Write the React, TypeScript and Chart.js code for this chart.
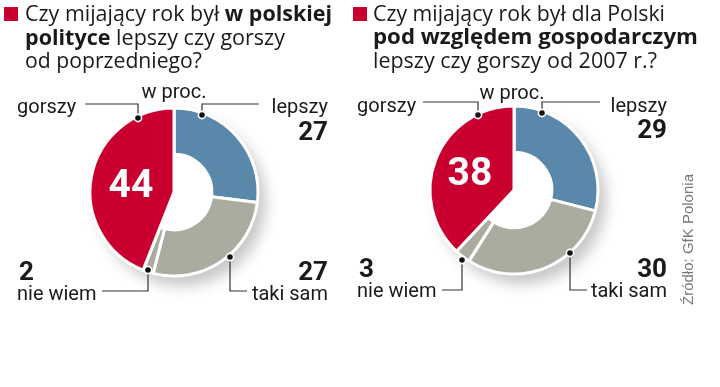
import React, { useEffect, useRef } from "react";
import { Chart, registerables } from "chart.js";

Chart.register(...registerables);

// ---- data ----
const categories = ["lepszy", "taki sam", "nie wiem", "gorszy"];
const politicsValues = [27, 27, 2, 44];
const economyValues = [29, 30, 3, 38];
const sliceColors = ["#5a88ab", "#abab9f", "#abab9f", "#c9002f"];
const wedgeColors = ["rgba(0,0,0,0)", "rgba(0,0,0,0)", "rgba(0,0,0,0)", "#c9002f"];

const FONT = "Roboto, 'Noto Sans', sans-serif";
const TFONT = "'Open Sans', Roboto, sans-serif";
const RED = "#c9002f";
const R = 84;
const SIZE = 200;

type Panel = {
  values: number[];
  cx: number;
  cy: number;
};

const panels: Panel[] = [
  { values: politicsValues, cx: 174, cy: 191.5 },
  { values: economyValues, cx: 514, cy: 190 },
];

function makeChart(canvas: HTMLCanvasElement, values: number[], wedge: boolean) {
  return new Chart(canvas, {
    type: "doughnut",
    data: {
      labels: categories,
      datasets: [
        {
          data: values,
          backgroundColor: wedge ? wedgeColors : sliceColors,
          borderColor: "#ffffff",
          borderWidth: wedge ? [0, 0, 0, 3] : 3,
          hoverOffset: 0,
        },
      ],
    },
    options: {
      responsive: false,
      animation: false,
      events: [],
      radius: R,
      cutout: wedge ? 0 : "45%",
      layout: { padding: 0 },
      plugins: { legend: { display: false }, tooltip: { enabled: false } },
    },
  });
}

function Donut({ panel }: { panel: Panel }) {
  const ringRef = useRef<HTMLCanvasElement>(null);
  const wedgeRef = useRef<HTMLCanvasElement>(null);
  useEffect(() => {
    const a = makeChart(ringRef.current!, panel.values, false);
    const b = makeChart(wedgeRef.current!, panel.values, true);
    return () => {
      a.destroy();
      b.destroy();
    };
  }, [panel]);
  const style: React.CSSProperties = {
    position: "absolute",
    left: panel.cx - SIZE / 2,
    top: panel.cy - SIZE / 2,
    width: SIZE,
    height: SIZE,
  };
  return (
    <>
      <div
        style={{
          position: "absolute",
          left: panel.cx - R,
          top: panel.cy - R,
          width: 2 * R,
          height: 2 * R,
          borderRadius: "50%",
          background: "#fff",
          boxShadow: "8px 10px 14px rgba(0,0,0,0.22)",
        }}
      />
      <canvas ref={ringRef} width={SIZE} height={SIZE} style={style} />
      <canvas ref={wedgeRef} width={SIZE} height={SIZE} style={style} />
    </>
  );
}

function Dot({ x, y }: { x: number; y: number }) {
  return <circle cx={x} cy={y} r={3.6} fill="#111" stroke="#fff" strokeWidth={1.6} />;
}

export default function App() {
  useEffect(() => {
    document.body.style.margin = "0";
  }, []);
  const lab = { fontFamily: FONT, fontSize: 20, fill: "#1a1a1a" } as const;
  const num = { fontFamily: FONT, fontSize: 26, fontWeight: 700, fill: "#1a1a1a" } as const;
  const title = {
    fontFamily: TFONT,
    fontSize: 21,
    fill: "#1a1a1a",
    lengthAdjust: "spacingAndGlyphs",
  } as const;
  const line = { fill: "none", stroke: "#333", strokeWidth: 1.2 } as const;
  const L = politicsValues;
  const E = economyValues;
  return (
    <div style={{ position: "relative", width: 720, height: 387, background: "#fff", overflow: "hidden" }}>
      {panels.map((p, i) => (
        <Donut key={i} panel={p} />
      ))}
      <svg width={720} height={387} style={{ position: "absolute", left: 0, top: 0, pointerEvents: "none" }}>
        {/* titles */}
        <rect x={4} y={7} width={14} height={14} fill={RED} />
        <text {...title} x={25} y={21} textLength={307}>
          Czy mijający rok był <tspan fontWeight={700}>w polskiej</tspan>
        </text>
        <text {...title} x={25} y={44.5} textLength={260}>
          <tspan fontWeight={700}>polityce</tspan> lepszy czy gorszy
        </text>
        <text {...title} x={25} y={68} textLength={177}>
          od poprzedniego?
        </text>

        <rect x={353} y={7} width={14} height={14} fill={RED} />
        <text {...title} x={373} y={20.5} textLength={292}>
          Czy mijający rok był dla Polski
        </text>
        <text {...title} x={373} y={44} fontWeight={700} textLength={325}>
          pod względem gospodarczym
        </text>
        <text {...title} x={373} y={67.5} textLength={284}>
          lepszy czy gorszy od 2007 r.?
        </text>

        {/* left panel */}
        <text {...lab} x={174} y={98} textAnchor="middle">w proc.</text>
        <text {...lab} x={17} y={113}>{categories[3]}</text>
        <path {...line} d="M85,104 H138 V118" />
        <Dot x={138} y={118} />
        <text {...lab} x={328} y={113} textAnchor="end">{categories[0]}</text>
        <path {...line} d="M259,104 H202 V115" />
        <Dot x={202} y={115} />
        <text {...num} x={328} y={140} textAnchor="end">{L[0]}</text>
        <text {...num} x={19} y={280}>{L[2]}</text>
        <text {...lab} x={17} y={300}>{categories[2]}</text>
        <path {...line} d="M102,291 H148 V270" />
        <Dot x={148} y={270} />
        <text {...num} x={328} y={280} textAnchor="end">{L[1]}</text>
        <text {...lab} x={328} y={300} textAnchor="end">{categories[1]}</text>
        <path {...line} d="M247,291 H230 V257" />
        <Dot x={230} y={257} />
        <text {...num} x={131} y={197} fontSize={39} fill="#fff" textAnchor="middle">{L[3]}</text>

        {/* right panel */}
        <text {...lab} x={512} y={99} textAnchor="middle">w proc.</text>
        <text {...lab} x={357} y={112}>{categories[3]}</text>
        <path {...line} d="M423,102 H478 V115" />
        <Dot x={478} y={115} />
        <text {...lab} x={667} y={112} textAnchor="end">{categories[0]}</text>
        <path {...line} d="M600,102 H542 V113" />
        <Dot x={542} y={113} />
        <text {...num} x={667} y={138} textAnchor="end">{E[0]}</text>
        <text {...num} x={359} y={277}>{E[2]}</text>
        <text {...lab} x={357} y={297}>{categories[2]}</text>
        <path {...line} d="M442,290 H462 V260" />
        <Dot x={462} y={260} />
        <text {...num} x={667} y={277} textAnchor="end">{E[1]}</text>
        <text {...lab} x={667} y={297} textAnchor="end">{categories[1]}</text>
        <path {...line} d="M587,290 H570 V253" />
        <Dot x={570} y={253} />
        <text {...num} x={470} y={185} fontSize={39} fill="#fff" textAnchor="middle">{E[3]}</text>

        <text
          fontFamily="'Liberation Sans', Arial, sans-serif"
          fontSize={14}
          fill="#777"
          textLength={131}
          lengthAdjust="spacingAndGlyphs"
          transform="translate(693,305) rotate(-90)"
        >
          Źródło: GfK Polonia
        </text>
      </svg>
    </div>
  );
}
